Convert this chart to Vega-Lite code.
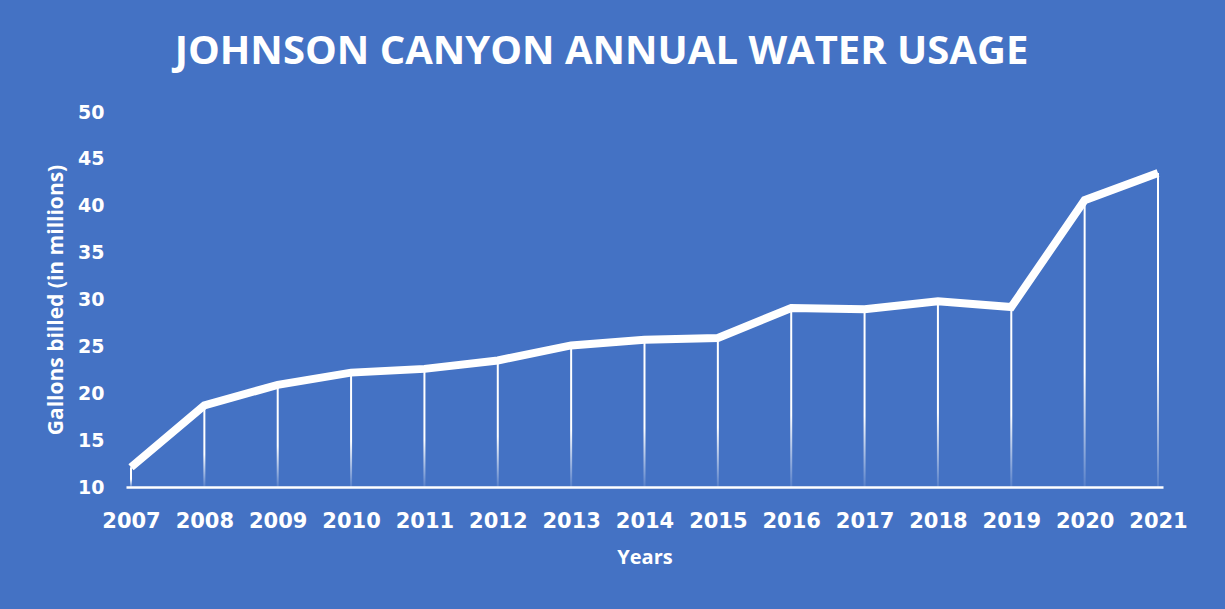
{
  "$schema": "https://vega.github.io/schema/vega-lite/v6.json",
  "width": 1037,
  "height": 375,
  "autosize": {"type": "none"},
  "padding": {"left": 126, "top": 112, "right": 62, "bottom": 122},
  "background": "#4472C4",
  "config": {"view": {"stroke": null}, "font": "Open Sans"},
  "title": {
    "text": "JOHNSON CANYON ANNUAL WATER USAGE",
    "color": "white",
    "fontSize": 40,
    "fontWeight": "bold",
    "font": "Open Sans",
    "anchor": "middle",
    "dx": -43,
    "offset": 31
  },
  "data": {
    "values": [
      {"year": 2007, "gallons": 12.1},
      {"year": 2008, "gallons": 18.7},
      {"year": 2009, "gallons": 20.9},
      {"year": 2010, "gallons": 22.2},
      {"year": 2011, "gallons": 22.6},
      {"year": 2012, "gallons": 23.5},
      {"year": 2013, "gallons": 25.1},
      {"year": 2014, "gallons": 25.7},
      {"year": 2015, "gallons": 25.9},
      {"year": 2016, "gallons": 29.1},
      {"year": 2017, "gallons": 28.95},
      {"year": 2018, "gallons": 29.8},
      {"year": 2019, "gallons": 29.2},
      {"year": 2020, "gallons": 40.6},
      {"year": 2021, "gallons": 43.5}
    ]
  },
  "encoding": {
    "x": {
      "field": "year",
      "type": "quantitative",
      "scale": {"domain": [2007, 2021], "nice": false, "zero": false},
      "axis": {
        "values": [2007, 2008, 2009, 2010, 2011, 2012, 2013, 2014, 2015, 2016, 2017, 2018, 2019, 2020, 2021],
        "format": "d",
        "grid": false,
        "ticks": false,
        "domainColor": "white",
        "domainWidth": 2.5,
        "labelColor": "white",
        "labelFont": "DejaVu Sans",
        "labelFontWeight": "bold",
        "labelFontSize": 21,
        "labelPadding": 23,
        "labelFlush": false,
        "labelOverlap": false,
        "title": "Years",
        "titleColor": "white",
        "titleFont": "Open Sans",
        "titleFontWeight": "bold",
        "titleFontSize": 20,
        "titlePadding": 16
      }
    }
  },
  "layer": [
    {
      "mark": {
        "type": "bar",
        "size": 2,
        "fill": {
          "gradient": "linear",
          "x1": 0, "y1": 0, "x2": 0, "y2": 1,
          "stops": [
            {"offset": 0, "color": "#ffffff"},
            {"offset": 0.6, "color": "#ffffff"},
            {"offset": 1, "color": "rgba(255,255,255,0.1)"}
          ]
        }
      },
      "encoding": {
        "y": {
          "field": "gallons",
          "type": "quantitative",
          "scale": {"domain": [10, 50], "zero": false, "nice": false},
          "axis": {
            "values": [10, 15, 20, 25, 30, 35, 40, 45, 50],
            "grid": false,
            "ticks": false,
            "domain": false,
            "labelColor": "white",
            "labelFont": "DejaVu Sans",
            "labelFontWeight": "bold",
            "labelFontSize": 19,
            "labelPadding": 22,
            "title": "Gallons billed (in millions)",
            "titleColor": "white",
            "titleFont": "Open Sans",
            "titleFontWeight": "bold",
            "titleFontSize": 21,
            "titlePadding": 11
          }
        },
        "y2": {"datum": 10}
      }
    },
    {
      "mark": {"type": "line", "color": "white", "strokeWidth": 8, "strokeJoin": "miter"},
      "encoding": {
        "y": {"field": "gallons", "type": "quantitative"}
      }
    }
  ]
}
